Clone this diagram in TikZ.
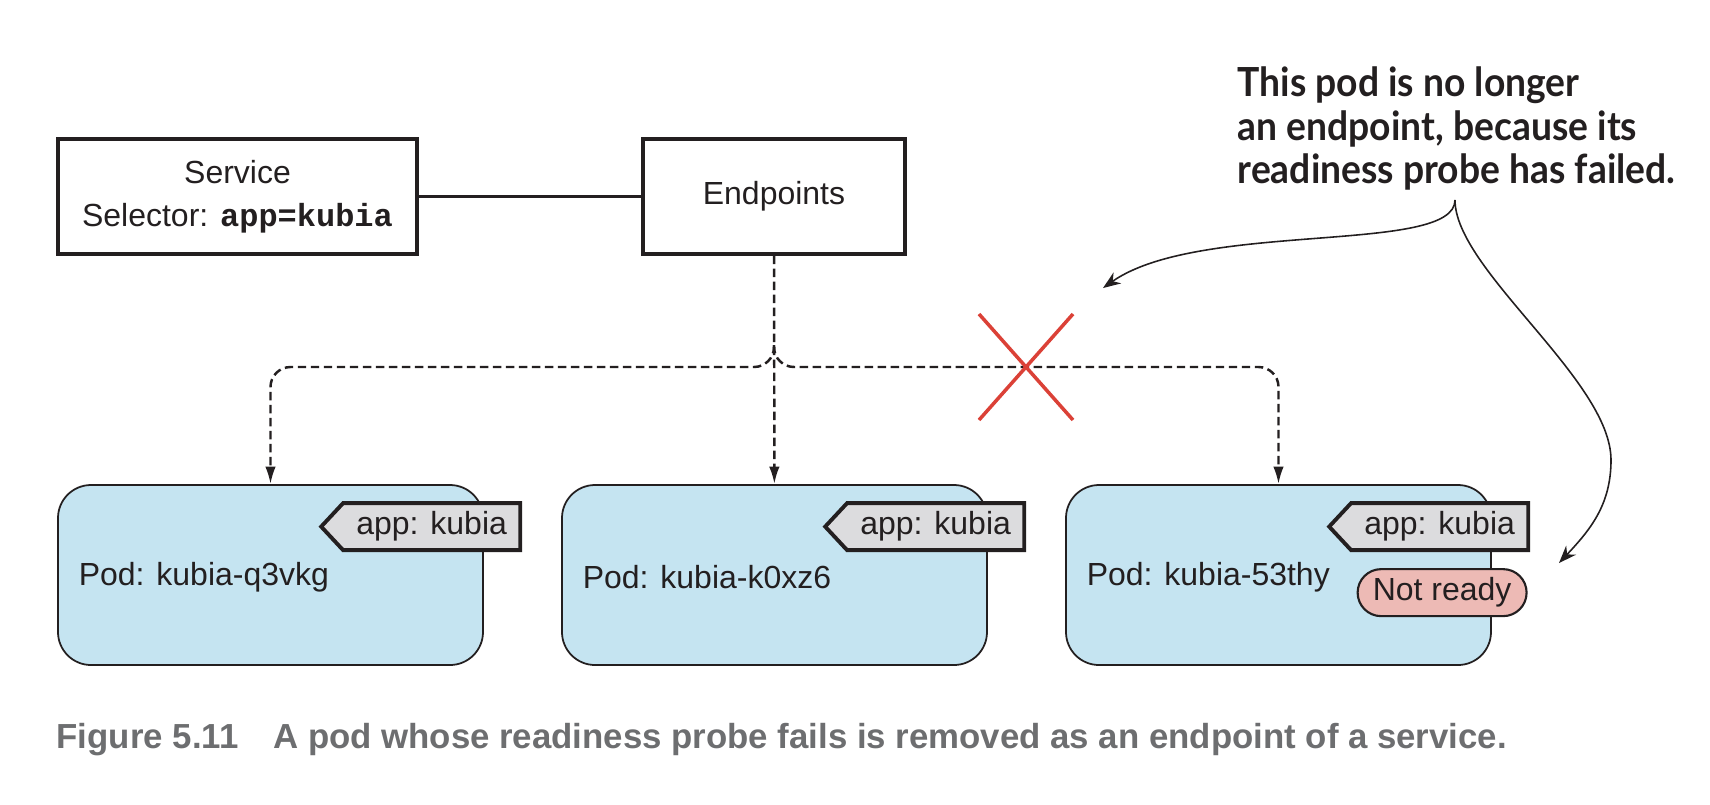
\documentclass[tikz,border=0pt]{standalone}
\usepackage{fontspec}
\setmainfont{Liberation Sans}
\setmonofont{Liberation Mono}
\newfontfamily\notefont{Lato}[FakeStretch=0.93]
\usetikzlibrary{positioning,shapes.symbols,shapes.misc,arrows.meta}
\definecolor{ink}{HTML}{231F20}
\definecolor{podblue}{HTML}{C5E4F1}
\definecolor{taggrey}{HTML}{DCDCDE}
\definecolor{notpink}{HTML}{EDBAB5}
\definecolor{crossred}{HTML}{DB4137}
\definecolor{capgrey}{HTML}{6D6E70}

\begin{document}
\begin{tikzpicture}[x=0.1mm,y=-0.1mm,node distance=50.4mm,
  every node/.style={text=ink,font=\fontsize{9.1}{12.2}\selectfont},
  box/.style={draw=ink,line width=0.9pt,minimum height=11.5mm,align=center,inner sep=0pt},
  pod/.style={draw=ink,line width=0.5pt,fill=podblue,rounded corners=3.3mm,minimum width=42.5mm,minimum height=18mm},
  podname/.style={anchor=west,inner sep=0pt},
  tag/.style={signal,signal to=west,signal pointer angle=94,draw=ink,line width=1.1pt,fill=taggrey,
    minimum width=19.9mm,minimum height=4.7mm,inner sep=1pt,anchor=east},
  notready/.style={rounded rectangle,draw=ink,line width=0.6pt,fill=notpink,minimum width=17.6mm,minimum height=4.7mm,inner sep=1pt},
  link/.style={draw=ink,line width=0.7pt,dash pattern=on 2.4pt off 1.3pt,rounded corners=2mm,-{Latex[length=5pt,width=3pt]}},
  note/.style={draw=ink,line width=0.45pt,-{Stealth[length=5pt,width=3.8pt]}},
  notetext/.style={anchor=north west,align=left,inner sep=0pt,font=\notefont\bfseries\fontsize{11.4}{12.4}\selectfont},
  caption/.style={anchor=base west,inner sep=0pt,text=capgrey,font=\bfseries\fontsize{9.9}{12}\selectfont}]
  \useasboundingbox (0,0) rectangle (1710,804);

  \node[box,minimum width=35.9mm] (service) at (237.5,196.5) {Service\\Selector: \texttt{\bfseries app=kubia}};
  \node[box,minimum width=26.2mm] (endpoints) at (774,196.5) {Endpoints};
  \draw[ink,line width=0.75pt] (service) -- (endpoints);

  \node[pod] (pod1) at (270.5,575) {};
  \node[pod] (pod2) [right of=pod1] {};
  \node[pod] (pod3) [right of=pod2] {};

  \node[podname] (name1) at ([xshift=2.1mm,yshift=-0.2mm]pod1.west) {Pod: kubia-q3vkg};
  \node[podname] (name2) at ([xshift=2.1mm,yshift=-0.2mm]pod2.west) {Pod: kubia-k0xz6};
  \node[podname] (name3) at ([xshift=2.1mm,yshift=-0.2mm]pod3.west) {Pod: kubia-53thy};

  \node[tag] (tag1) at ([shift={(465,42.5)}]pod1.north west) {app: kubia};
  \node[tag] (tag2) at ([shift={(465,42.5)}]pod2.north west) {app: kubia};
  \node[tag] (tag3) at ([shift={(465,42.5)}]pod3.north west) {app: kubia};
  \node[notready] (ready3) at ([shift={(377,108.5)}]pod3.north west) {Not ready};

  \coordinate (fork) at (774,345);
  \draw[link] (endpoints) -- (pod2);
  \draw[link] (fork) -- ++(0,22) -| (pod1);
  \draw[link] (fork) -- ++(0,22) -| (pod3);

  \coordinate (cut) at (1026,367);
  \draw[crossred,line width=1pt] ([shift={(-47,-53)}]cut) -- ([shift={(47,53)}]cut);
  \draw[crossred,line width=1pt] ([shift={(-47,53)}]cut) -- ([shift={(47,-53)}]cut);

  \node[notetext] (note) at (1237,66) {This pod is no longer\\an endpoint, because its\\readiness probe has failed.};
  \coordinate (split) at (1455,200);
  \coordinate (xmark) at (1103,288);
  \coordinate (readymark) at (1559,563);
  \draw[note] (split) .. controls (1455,255) and (1200,220) .. (xmark);
  \draw[note] (split) .. controls (1455,270) and (1611,380) .. (1611,460)
    .. controls (1611,505) and (1590,530) .. (readymark);

  \node[caption] (caption) at (56,748) {Figure 5.11\quad A pod whose readiness probe fails is removed as an endpoint of a service.};
\end{tikzpicture}
\end{document}
